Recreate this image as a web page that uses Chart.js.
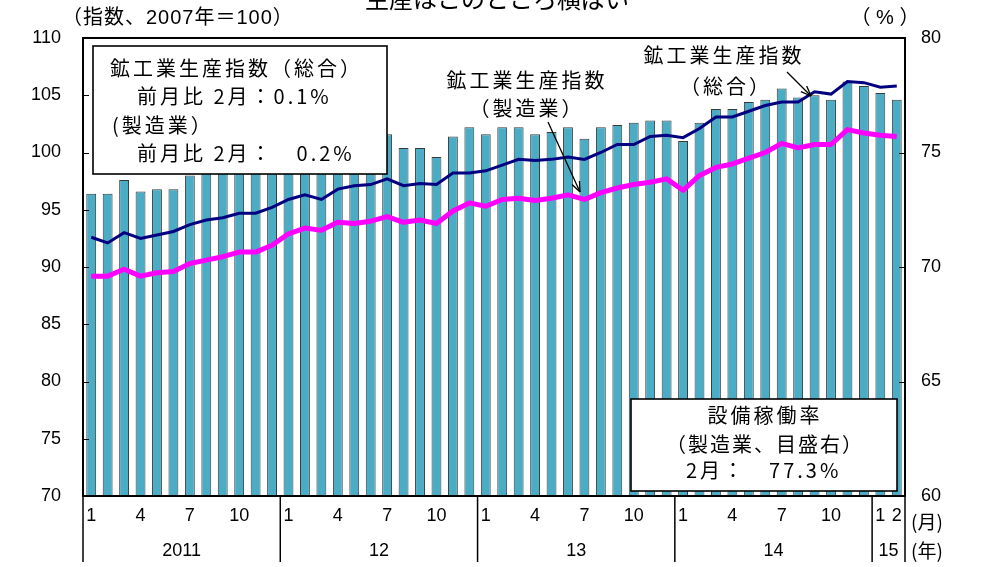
<!DOCTYPE html>
<html lang="ja">
<head>
<meta charset="utf-8">
<title>生産はこのところ横ばい</title>
<script src="https://cdn.jsdelivr.net/npm/chart.js@4/dist/chart.umd.min.js"></script>
<style>
  html, body { margin: 0; padding: 0; background: #fff; }
  #wrap { position: relative; width: 989px; height: 567px; }
</style>
</head>
<body>
<div id="wrap"><canvas id="chart" width="989" height="567"></canvas></div>
<script>
'use strict';

//****************************************
//          DATA
//****************************************

// months Jan 2011 - Feb 2015
const monthNums = [
  1, 2, 3, 4, 5, 6, 7, 8, 9, 10, 11, 12,
  1, 2, 3, 4, 5, 6, 7, 8, 9, 10, 11, 12,
  1, 2, 3, 4, 5, 6, 7, 8, 9, 10, 11, 12,
  1, 2, 3, 4, 5, 6, 7, 8, 9, 10, 11, 12,
  1, 2
];
const yearNames = ['2011', '12', '13', '14', '15'];
const yearStartIdx = [0, 12, 24, 36, 48];
const shownMonths = [1, 4, 7, 10];

// 設備稼働率 (製造業, %) - right scale
const utilization = [
  73.2, 73.2, 73.8, 73.3, 73.4, 73.4, 74.0, 74.4, 74.9, 75.2, 75.4, 75.6,
  75.3, 75.7, 75.6, 75.8, 75.9, 75.5, 75.8, 75.2, 75.2, 74.8, 75.7, 76.1,
  75.8, 76.1, 76.1, 75.8, 75.9, 76.1, 75.6, 76.1, 76.2, 76.3, 76.4, 76.4,
  75.5, 76.3, 76.9, 76.9, 77.2, 77.3, 77.8, 77.4, 77.5, 77.3, 78.1, 77.9,
  77.6, 77.3
];

// 鉱工業生産指数 (総合)
const ipiTotal = [
  92.6, 92.1, 93.0, 92.5, 92.8, 93.1, 93.7, 94.1, 94.3, 94.7, 94.7, 95.2,
  95.9, 96.3, 95.9, 96.8, 97.1, 97.2, 97.7, 97.1, 97.3, 97.2, 98.2, 98.2,
  98.4, 98.9, 99.4, 99.3, 99.4, 99.6, 99.4, 100.0, 100.7, 100.7, 101.4, 101.5,
  101.3, 102.1, 103.1, 103.1, 103.6, 104.1, 104.4, 104.4, 105.3, 105.1, 106.2, 106.1,
  105.7, 105.8
];

// 鉱工業生産指数 (製造業)
const ipiMfg = [
  89.2, 89.2, 89.8, 89.2, 89.5, 89.6, 90.3, 90.6, 90.9, 91.3, 91.3, 91.9,
  92.9, 93.4, 93.2, 93.9, 93.8, 94.0, 94.4, 93.9, 94.1, 93.8, 94.9, 95.6,
  95.3, 95.9, 96.0, 95.8, 96.0, 96.3, 95.9, 96.5, 96.9, 97.2, 97.4, 97.7,
  96.7, 98.0, 98.7, 99.0, 99.5, 100.0, 100.8, 100.4, 100.7, 100.7, 102.0, 101.7,
  101.5, 101.4
];

const leftTicks = [70, 75, 80, 85, 90, 95, 100, 105, 110];
const rightTicks = [60, 65, 70, 75, 80];

//****************************************
//            HELPER FUNCTIONS
//****************************************

const JP = '"Noto Sans CJK JP", "Noto Sans", sans-serif';
const NUM = '"Liberation Sans Narrow", "Liberation Sans", "Noto Sans CJK JP", sans-serif';

function yearOf(i) {
  let y = 0;
  yearStartIdx.forEach((s, k) => { if (i >= s) y = k; });
  return y;
}

const categories = monthNums.map((m, i) => yearNames[yearOf(i)] + '-' + m);

function line(ctx, x1, y1, x2, y2) {
  ctx.beginPath();
  ctx.moveTo(x1, y1);
  ctx.lineTo(x2, y2);
  ctx.stroke();
}

function arrow(ctx, x1, y1, x2, y2) {
  const a = Math.atan2(y2 - y1, x2 - x1);
  const h = 11;
  ctx.lineWidth = 1.3;
  line(ctx, x1, y1, x2, y2);
  line(ctx, x2, y2, x2 - h * Math.cos(a - 0.38), y2 - h * Math.sin(a - 0.38));
  line(ctx, x2, y2, x2 - h * Math.cos(a + 0.38), y2 - h * Math.sin(a + 0.38));
}

function text(ctx, str, x, y, align, font, spacing) {
  ctx.font = font;
  ctx.textAlign = align;
  ctx.textBaseline = 'middle';
  ctx.letterSpacing = spacing || '0px';
  ctx.fillText(str, x, y);
  ctx.letterSpacing = '0px';
}

function box(ctx, x, y, w, h) {
  ctx.fillStyle = '#fff';
  ctx.fillRect(x, y, w, h);
  ctx.strokeStyle = '#000';
  ctx.lineWidth = 1.6;
  ctx.strokeRect(x, y, w, h);
  ctx.fillStyle = '#000';
}

//****************************************
//            DECOR PLUGIN
//****************************************

const decor = {
  id: 'decor',
  afterDatasetsDraw(chart) {
    const { ctx, chartArea: a, scales } = chart;
    ctx.save();
    ctx.strokeStyle = '#000';
    ctx.fillStyle = '#000';

    // inward tick marks
    ctx.lineWidth = 1;
    leftTicks.forEach(v => {
      const y = Math.round(scales.y.getPixelForValue(v)) + 0.5;
      line(ctx, a.left, y, a.left + 6, y);
    });
    rightTicks.forEach(v => {
      const y = Math.round(scales.y1.getPixelForValue(v)) + 0.5;
      line(ctx, a.right - 6, y, a.right, y);
    });

    // frame
    ctx.lineWidth = 2;
    ctx.strokeRect(a.left, a.top, a.right - a.left, a.bottom - a.top);

    // year dividers and labels under the axis
    const step = scales.x.getPixelForValue(1) - scales.x.getPixelForValue(0);
    const bounds = yearStartIdx.concat([monthNums.length]);
    ctx.lineWidth = 1.5;
    bounds.forEach(idx => {
      const x = scales.x.getPixelForValue(idx) - step / 2;
      line(ctx, x, a.bottom, x, a.bottom + 66);
    });
    yearNames.forEach((name, k) => {
      const x0 = scales.x.getPixelForValue(bounds[k]) - step / 2;
      const x1 = scales.x.getPixelForValue(bounds[k + 1]) - step / 2;
      text(ctx, name, (x0 + x1) / 2, a.bottom + 55, 'center', '18px ' + NUM);
    });
    text(ctx, '(月)', a.right + 22, a.bottom + 26, 'center', '19px ' + JP);
    text(ctx, '(年)', a.right + 22, a.bottom + 55, 'center', '19px ' + JP);

    // units and title
    text(ctx, '（指数、2007年＝100）', 62, 18, 'left', '20px ' + NUM, '1px');
    text(ctx, '（ % ）', 885, 18, 'center', '20px ' + NUM);
    ctx.font = '24px ' + JP;
    ctx.textAlign = 'center';
    ctx.textBaseline = 'bottom';
    ctx.fillText('生産はこのところ横ばい', 497, 11);

    // summary box (top left)
    const f20 = '20px ' + JP;
    box(ctx, 93, 46, 294, 128);
    text(ctx, '鉱工業生産指数（総合）', 110, 68, 'left', f20, '3px');
    text(ctx, '前月比 2月：0.1%', 137, 96, 'left', f20, '3px');
    text(ctx, '(製造業）', 112, 125, 'left', f20, '3px');
    text(ctx, '前月比 2月：　0.2%', 137, 153, 'left', f20, '3px');

    // utilization box (bottom right)
    box(ctx, 631, 399, 266, 92);
    text(ctx, '設備稼働率', 765, 415, 'center', f20, '3px');
    text(ctx, '（製造業、目盛右）', 765, 444, 'center', f20, '2px');
    text(ctx, '2月：　77.3%', 686, 470, 'left', f20, '3px');

    // line labels with arrows
    text(ctx, '鉱工業生産指数', 527, 80, 'center', f20, '3px');
    text(ctx, '（製造業）', 527, 108, 'center', f20, '3px');
    arrow(ctx, 548, 122, 580, 192);

    text(ctx, '鉱工業生産指数', 724, 55, 'center', f20, '3px');
    text(ctx, '（総合）', 726, 86, 'center', f20, '3px');
    arrow(ctx, 787, 72, 811, 96);

    ctx.restore();
  }
};

//****************************************
//            CHART RENDERING
//****************************************

const ctx = document.getElementById('chart').getContext('2d');

new Chart(ctx, {
  type: 'bar',
  data: {
    labels: categories,
    datasets: [{
      type: 'line',
      label: '鉱工業生産指数（総合）',
      data: ipiTotal,
      yAxisID: 'y',
      borderColor: '#000080',
      borderWidth: 3,
      pointRadius: 0,
      tension: 0,
      order: 1
    }, {
      type: 'line',
      label: '鉱工業生産指数（製造業）',
      data: ipiMfg,
      yAxisID: 'y',
      borderColor: '#FF00FF',
      borderWidth: 5,
      pointRadius: 0,
      tension: 0,
      borderJoinStyle: 'round',
      order: 2
    }, {
      type: 'bar',
      label: '設備稼働率',
      data: utilization,
      yAxisID: 'y1',
      backgroundColor: '#4BACC6',
      borderColor: '#3a3a3a',
      borderWidth: 1,
      barPercentage: 0.6,
      categoryPercentage: 1,
      order: 3
    }]
  },
  options: {
    responsive: false,
    animation: false,
    layout: { padding: { top: 38, left: 0, right: 0, bottom: 0 } },
    plugins: {
      legend: { display: false },
      tooltip: { enabled: false }
    },
    scales: {
      x: {
        offset: true,
        grid: { display: false, drawTicks: false },
        border: { display: false },
        ticks: {
          autoSkip: false,
          maxRotation: 0,
          minRotation: 0,
          padding: 9,
          color: '#000',
          font: { family: NUM, size: 18 },
          callback: function (val, i) {
            const m = monthNums[i];
            if (yearOf(i) === yearNames.length - 1 || shownMonths.includes(m)) return String(m);
            return '';
          }
        },
        afterFit: s => { s.height = 71; }
      },
      y: {
        position: 'left',
        min: leftTicks[0],
        max: leftTicks[leftTicks.length - 1],
        grid: { display: false, drawTicks: false },
        border: { display: false },
        ticks: {
          stepSize: leftTicks[1] - leftTicks[0],
          padding: 22,
          color: '#000',
          font: { family: NUM, size: 18 }
        },
        afterFit: s => { s.width = 83; }
      },
      y1: {
        position: 'right',
        min: rightTicks[0],
        max: rightTicks[rightTicks.length - 1],
        grid: { display: false, drawTicks: false },
        border: { display: false },
        ticks: {
          stepSize: rightTicks[1] - rightTicks[0],
          padding: 16,
          color: '#000',
          font: { family: NUM, size: 18 }
        },
        afterFit: s => { s.width = 84; }
      }
    }
  },
  plugins: [decor]
});
</script>
</body>
</html>
